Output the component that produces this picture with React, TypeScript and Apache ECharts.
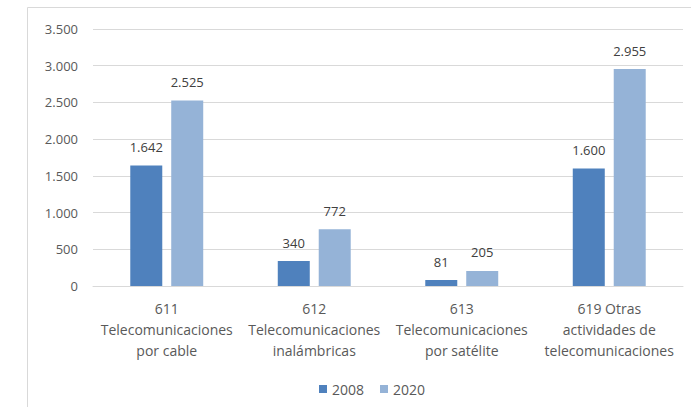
import React, { useEffect, useRef } from "react";
import * as echarts from "echarts";

const categories = [
  "611\nTelecomunicaciones\npor cable",
  "612\nTelecomunicaciones\ninalámbricas",
  "613\nTelecomunicaciones\npor satélite",
  "619 Otras\nactividades de\ntelecomunicaciones",
];
const values2008 = [1642, 340, 81, 1600];
const values2020 = [2525, 772, 205, 2955];
const seriesNames = ["2008", "2020"];

const fmt = (v: number) => {
  const s = String(Math.round(v));
  return s.replace(/\B(?=(\d{3})+(?!\d))/g, ".");
};

const FONT = "'Open Sans', 'Liberation Sans', sans-serif";
const TEXT = "#595959";

export default function App() {
  const ref = useRef<HTMLDivElement>(null);
  useEffect(() => {
    const chart = echarts.init(ref.current!, null, { renderer: "svg" });
    const labelCfg = {
      show: true,
      position: "top" as const,
      distance: 12,
      color: "#404040",
      fontSize: 13,
      fontFamily: FONT,
      formatter: (p: any) => fmt(p.value),
    };
    chart.setOption({
      animation: false,
      backgroundColor: "#ffffff",
      textStyle: { fontFamily: FONT },
      graphic: [
        {
          type: "rect",
          shape: { x: 27.5, y: 7.5, width: 700, height: 420 },
          style: { fill: "none", stroke: "#d9d9d9", lineWidth: 1 },
          silent: true,
        },
      ],
      grid: { left: 93, right: 8, top: 29, bottom: 121 },
      legend: {
        data: seriesNames,
        top: 377,
        left: 314,
        itemWidth: 8,
        itemHeight: 8,
        itemGap: 16,
        icon: "rect",
        textStyle: { color: TEXT, fontSize: 14, fontFamily: FONT },
      },
      xAxis: {
        type: "category",
        data: categories,
        axisLine: { lineStyle: { color: "#d9d9d9" } },
        axisTick: { show: false },
        axisLabel: {
          color: TEXT,
          fontSize: 14,
          fontFamily: FONT,
          lineHeight: 21,
          margin: 12,
          interval: 0,
        },
      },
      yAxis: {
        type: "value",
        min: 0,
        max: 3500,
        interval: 500,
        axisLine: { show: false },
        axisTick: { show: false },
        splitLine: { lineStyle: { color: "#d9d9d9" } },
        axisLabel: {
          color: TEXT,
          fontSize: 13,
          fontFamily: FONT,
          margin: 15,
          formatter: (v: number) => fmt(v),
        },
      },
      series: [
        {
          name: seriesNames[0],
          type: "bar",
          data: values2008,
          barWidth: 32,
          barGap: "28%",
          itemStyle: { color: "#4f81bd" },
          label: labelCfg,
        },
        {
          name: seriesNames[1],
          type: "bar",
          data: values2020,
          barWidth: 32,
          barGap: "28%",
          itemStyle: { color: "#95b3d7" },
          label: labelCfg,
        },
      ],
    });
    return () => chart.dispose();
  }, []);
  return (
    <div
      ref={ref}
      style={{ position: "fixed", left: 0, top: 0, width: 691, height: 407 }}
    />
  );
}
